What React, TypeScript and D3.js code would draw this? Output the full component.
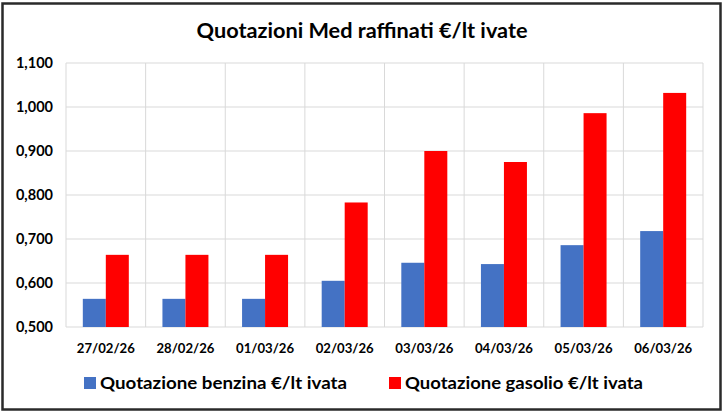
import React from "react";
import * as d3 from "d3";

const categories = ["27/02/26", "28/02/26", "01/03/26", "02/03/26", "03/03/26", "04/03/26", "05/03/26", "06/03/26"];
const benzina = [0.564, 0.564, 0.564, 0.605, 0.646, 0.643, 0.686, 0.718];
const gasolio = [0.664, 0.664, 0.664, 0.783, 0.900, 0.875, 0.986, 1.032];
const seriesNames = ["Quotazione benzina €/lt ivata", "Quotazione gasolio €/lt ivata"];
const seriesColors = ["#4472C4", "#FF0000"];
const yTicks = [0.5, 0.6, 0.7, 0.8, 0.9, 1.0, 1.1];
const title = "Quotazioni Med raffinati €/lt ivate";

const W = 724, H = 414;
const FONT = "Lato, 'Open Sans', sans-serif";

export default function App() {
  const x = d3.scaleBand<string>().domain(categories).range([66, 703]).paddingInner(0).paddingOuter(0);
  const y = d3.scaleLinear().domain([0.5, 1.1]).range([327, 63]);
  const bw = 23;
  const fmt = (v: number) => d3.format(".3f")(v).replace(".", ",");
  const series = [benzina, gasolio];

  return (
    <svg width={W} height={H} style={{ position: "fixed", left: 0, top: 0, background: "#fff" }} fontFamily={FONT}>
      <rect x={0} y={0} width={W} height={H} fill="#fff" />
      <rect x={2.5} y={3.5} width={718} height={406} fill="#fff" stroke="#2a2a2a" strokeWidth={2.5} />
      <text x={362} y={38} textAnchor="middle" fontSize={21} fontWeight="bold" fill="#000" textLength={331} lengthAdjust="spacingAndGlyphs">{title}</text>
      {yTicks.map((t) => (
        <g key={t}>
          <line x1={66} x2={703} y1={y(t)} y2={y(t)} stroke="#d9d9d9" strokeWidth={1} />
          <text x={53} y={y(t) + 5} textAnchor="end" fontSize={14.5} fontWeight="bold" fill="#000">{fmt(t)}</text>
        </g>
      ))}
      {categories.map((c, i) => (
        <line key={"v" + c} x1={x(c)!} x2={x(c)!} y1={63} y2={327} stroke="#d9d9d9" strokeWidth={1} />
      ))}
      <line x1={703} x2={703} y1={63} y2={327} stroke="#d9d9d9" strokeWidth={1} />
      {categories.map((c, i) => {
        const cx = x(c)! + x.bandwidth() / 2;
        return (
          <g key={c}>
            {series.map((s, k) => (
              <rect key={k} x={cx - bw + k * bw} y={y(s[i])} width={bw} height={y(0.5) - y(s[i])} fill={seriesColors[k]} />
            ))}
            <text x={cx} y={353} textAnchor="middle" fontSize={14} fontWeight="bold" fill="#000" textLength={58} lengthAdjust="spacingAndGlyphs">{c}</text>
          </g>
        );
      })}
      <rect x={84} y={377} width={12} height={12} fill={seriesColors[0]} />
      <text x={100} y={389} fontSize={17.5} fontWeight="bold" fill="#000" textLength={247} lengthAdjust="spacingAndGlyphs">{seriesNames[0]}</text>
      <rect x={389} y={377} width={12} height={12} fill={seriesColors[1]} />
      <text x={405} y={389} fontSize={17.5} fontWeight="bold" fill="#000" textLength={238} lengthAdjust="spacingAndGlyphs">{seriesNames[1]}</text>
    </svg>
  );
}
